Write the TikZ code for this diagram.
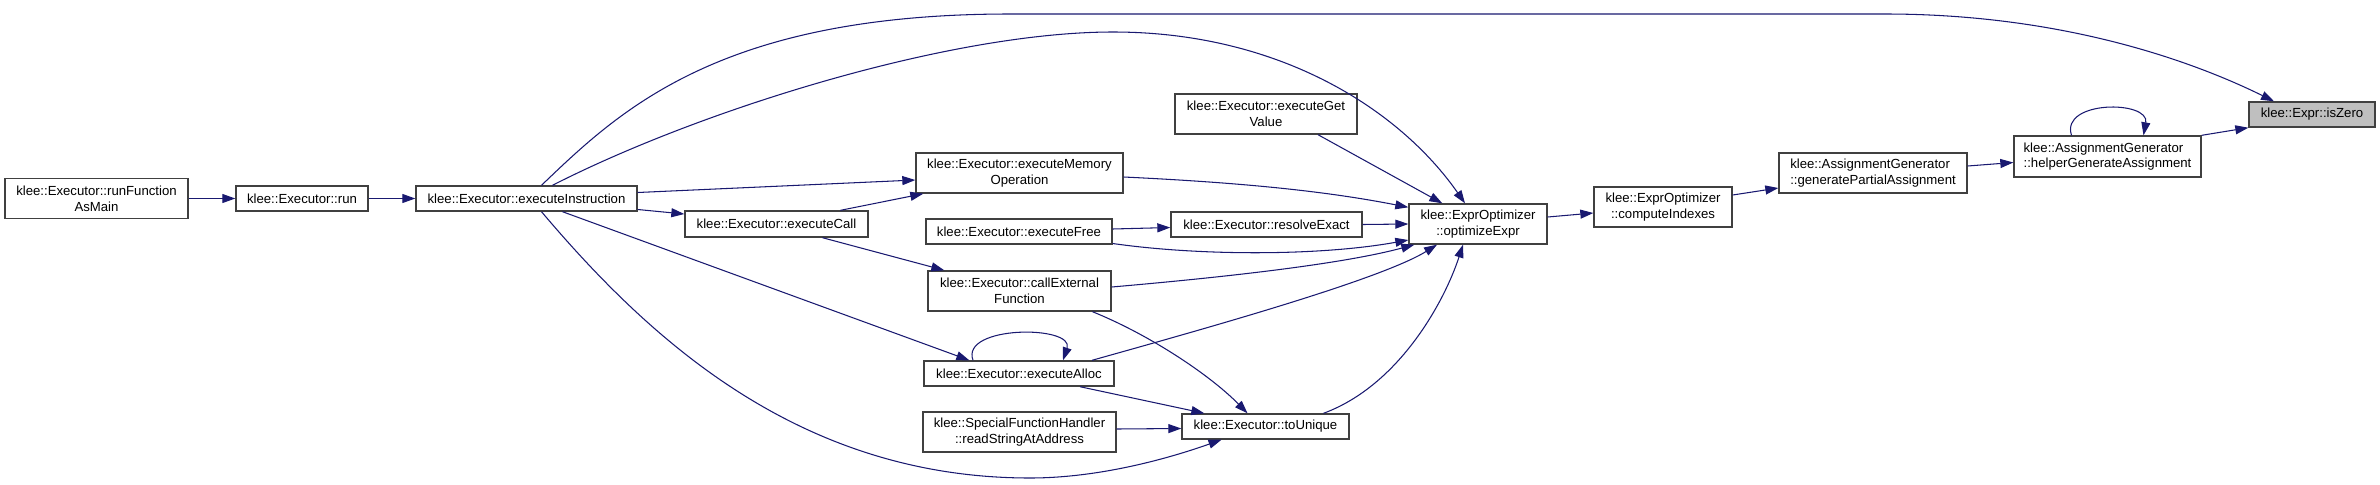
\documentclass[tikz,border=0pt]{standalone}
\usepackage{fontspec}
\setmainfont{Liberation Sans}
\usetikzlibrary{arrows.meta,calc}
\definecolor{callblue}{HTML}{191970}
\definecolor{boxline}{HTML}{404040}
\definecolor{hlgray}{HTML}{BFBFBF}
\tikzset{
  fnbox/.style={rectangle, draw=boxline, line width=0.8pt, fill=white, align=center, inner sep=0pt, minimum height=0.5cm, font=\fontsize{7.5}{9}\selectfont},
  fntwo/.style={fnbox, minimum height=0.8cm},
  fnleft/.style={fntwo, align=left},
  hlbox/.style={fnbox, fill=hlgray},
  callarrow/.style={draw=callblue, line width=0.6pt, -{Triangle[length=2.6mm,width=1.8mm]}},
}

\begin{document}
\begin{tikzpicture}[x=0.02cm,y=-0.02cm]
  \useasboundingbox (0,0) rectangle (2380,484);
  \node[fntwo,minimum width=3.66cm] (runmain) at (96.5,198.5) {klee::Executor::runFunction\\AsMain};
  \node[fnbox,minimum width=2.64cm] (run) at (302,198.5) {klee::Executor::run};
  \node[fnbox,minimum width=4.42cm] (execinstr) at (526.5,198.5) {klee::Executor::executeInstruction};
  \node[fntwo,minimum width=4.14cm] (execmem) at (1019.5,173) {klee::Executor::executeMemory\\Operation};
  \node[fnbox,minimum width=3.66cm,minimum height=0.52cm] (execcall) at (776.5,224) {klee::Executor::executeCall};
  \node[fntwo,minimum width=3.64cm] (execget) at (1266,114) {klee::Executor::executeGet\\Value};
  \node[fnbox,minimum width=3.82cm] (resolve) at (1266.5,224.5) {klee::Executor::resolveExact};
  \node[fnbox,minimum width=3.72cm] (execfree) at (1019,231.5) {klee::Executor::executeFree};
  \node[fntwo,minimum width=3.66cm] (callext) at (1019.5,291) {klee::Executor::callExternal\\Function};
  \node[fnbox,minimum width=3.8cm] (execalloc) at (1019,373.5) {klee::Executor::executeAlloc};
  \node[fntwo,minimum width=3.86cm] (readstr) at (1019.5,432) {klee::SpecialFunctionHandler\\::readStringAtAddress};
  \node[fnbox,minimum width=3.34cm] (tounique) at (1265.5,426.5) {klee::Executor::toUnique};
  \node[fntwo,minimum width=2.76cm] (optexpr) at (1478,224) {klee::ExprOptimizer\\::optimizeExpr};
  \node[fntwo,minimum width=2.76cm] (compidx) at (1663,207) {klee::ExprOptimizer\\::computeIndexes};
  \node[fnleft,minimum width=3.76cm] (genpartial) at (1873,173) {klee::AssignmentGenerator\\::generatePartialAssignment};
  \node[fnleft,minimum width=3.74cm,minimum height=0.82cm] (helper) at (2107.5,156.5) {klee::AssignmentGenerator\\::helperGenerateAssignment};
  \node[hlbox,minimum width=2.52cm] (iszero) at (2312,114.5) {klee::Expr::isZero};

  \draw[callarrow] (runmain.east) -- (run.west);
  \draw[callarrow] (run.east) -- (execinstr.west);
  \draw[callarrow] ($(execinstr.east)+(0,-6)$) -- ($(execmem.west)+(0,7)$);
  \draw[callarrow] ($(execinstr.east)+(0,11)$) -- ($(execcall.west)+(0,-10)$);
  \draw[callarrow] ($(execcall.north)+(64,0)$) -- ($(execmem.south west)+(8,0)$);
  \draw[callarrow] ($(execcall.south)+(46,0)$) -- ($(callext.north west)+(17,0)$);
  \draw[callarrow] ($(execinstr.south)+(36,0)$) -- ($(execalloc.north west)+(46,0)$);
  \draw[callarrow] ($(execinstr.south)+(15,0)$) .. controls (650,340) and (800,478) .. (1030,478)
    .. controls (1100,478) and (1170,458) .. ($(tounique.south)+(-44,0)$);
  \draw[callarrow] ($(execinstr.north)+(26,0)$) .. controls (700,110) and (950,32) .. (1113,32)
    .. controls (1280,32) and (1400,110) .. ($(optexpr.north)+(-13,0)$);
  \draw[callarrow] ($(execinstr.north)+(15,0)$) .. controls (620,110) and (720,14) .. (1010,14) -- (1885,14)
    .. controls (2050,14) and (2180,55) .. ($(iszero.north)+(-38,0)$);
  \draw[callarrow] ($(execalloc.north)+(-46,0)$) .. controls (960,325) and (1075,325) .. ($(execalloc.north)+(44,0)$);
  \draw[callarrow] ($(execalloc.south)+(61,0)$) -- ($(tounique.north west)+(23,0)$);
  \draw[callarrow] ($(execalloc.north)+(73,0)$) .. controls (1200,330) and (1380,280) .. ($(optexpr.south)+(-41,0)$);
  \draw[callarrow] ($(callext.south)+(73,0)$) .. controls (1150,335) and (1210,375) .. ($(tounique.north)+(-18,0)$);
  \draw[callarrow] ($(callext.east)+(0,-4)$) .. controls (1250,275) and (1350,262) .. ($(optexpr.south west)+(6,0)$);
  \draw[callarrow] ($(execfree.east)+(0,12)$) .. controls (1200,256) and (1320,256) .. ($(optexpr.west)+(0,16)$);
  \draw[callarrow] ($(execfree.east)+(0,-2.5)$) -- ($(resolve.west)+(0,3)$);
  \draw[callarrow] ($(execmem.east)+(0,4)$) .. controls (1250,183) and (1330,192) .. ($(optexpr.north west)+(0,4)$);
  \draw[callarrow] ($(execget.south)+(52,0)$) -- ($(optexpr.north west)+(34,0)$);
  \draw[callarrow] (resolve.east) -- (optexpr.west);
  \draw[callarrow] ($(tounique.north)+(58,0)$) .. controls (1400,385) and (1445,300) .. ($(optexpr.south)+(-15,0)$);
  \draw[callarrow] ($(readstr.east)+(0,-3)$) -- ($(tounique.west)+(0,2)$);
  \draw[callarrow] ($(optexpr.east)+(0,-7)$) -- ($(compidx.west)+(0,6)$);
  \draw[callarrow] ($(compidx.east)+(0,-12)$) -- ($(genpartial.west)+(0,15)$);
  \draw[callarrow] ($(genpartial.east)+(0,-7)$) -- ($(helper.west)+(0,6)$);
  \draw[callarrow] (helper.north east) -- (iszero.south west);
  \draw[callarrow] ($(helper.north)+(-36,0)$) .. controls (2060,100) and (2150,100) .. ($(helper.north)+(36,0)$);
\end{tikzpicture}
\end{document}
